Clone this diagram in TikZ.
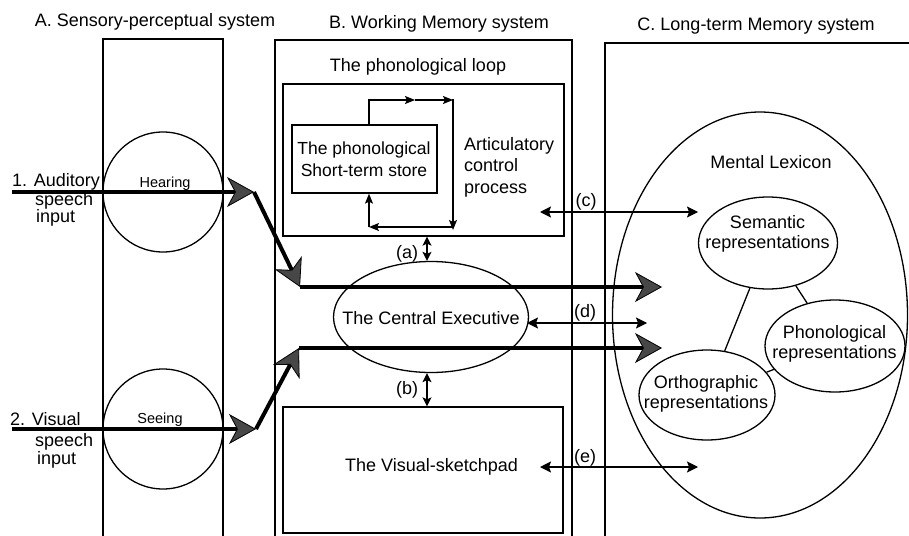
\documentclass[tikz,border=0pt]{standalone}
\usepackage{fontspec}
\setmainfont{Liberation Sans}
\usetikzlibrary{arrows.meta,shapes.geometric}
\tikzset{
  lbl/.style={inner sep=0pt, font=\fontsize{18}{20}\selectfont},
  sml/.style={inner sep=0pt, font=\fontsize{14.5}{17}\selectfont},
  frame/.style={line width=1.3pt},
  oval/.style={draw, ellipse, line width=1.3pt, inner sep=0pt},
  boxnode/.style={draw, line width=1.3pt, inner sep=0pt},
  bigarrow/.style={line width=4pt, -{Stealth[length=27pt,width=30pt,inset=8pt,line width=0.8pt,fill=black!72]}},
  twoway/.style={line width=1.3pt, {Stealth[length=11pt,width=11pt,inset=2pt]}-{Stealth[length=11pt,width=11pt,inset=2pt]}},
  shortway/.style={line width=1.3pt, {Stealth[length=9pt,width=9pt,inset=2pt]}-{Stealth[length=9pt,width=9pt,inset=2pt]}},
  looparrow/.style={line width=1.3pt, -{Stealth[length=10pt,width=8pt,inset=2pt]}},
}
\begin{document}
\begin{tikzpicture}[x=1pt,y=-1pt]
\useasboundingbox (0,0) rectangle (909,535);
\fill[white] (0,0) rectangle (909,535);

% titles
\node[lbl, anchor=base] (tA) at (155,27) {A. Sensory-perceptual system};
\node[lbl, anchor=base] (tB) at (439,29) {B. Working Memory system};
\node[lbl, anchor=base] (tC) at (756,31) {C. Long-term Memory system};

% columns
\draw[frame] (103,545) -- (103,39) -- (223,39) -- (223,545);
\draw[frame] (275,545) -- (275,40) -- (572,40) -- (572,545);
\draw[frame] (605,545) -- (605,43) -- (920,43);

% sensory circles
\node[draw, circle, line width=1.3pt, minimum size=120pt, inner sep=0pt] (hear) at (163,192) {};
\node[draw, circle, line width=1.3pt, minimum size=120pt, inner sep=0pt] (see) at (163,429) {};
\node[sml, anchor=base] (heart) at (165,187) {Hearing};
\node[sml, anchor=base] (seet) at (160,423) {Seeing};

% input labels
\node[lbl, anchor=base west] (aud1) at (12,186) {1. Auditory};
\node[lbl, anchor=base west] (aud2) at (35,205) {speech};
\node[lbl, anchor=base west] (aud3) at (36,222) {input};
\node[lbl, anchor=base west] (vis1) at (10,425) {2. Visual};
\node[lbl, anchor=base west] (vis2) at (35,446) {speech};
\node[lbl, anchor=base west] (vis3) at (37,464) {input};

% phonological loop
\node[lbl, anchor=base] (plt) at (418,71) {The phonological loop};
\node[boxnode, minimum width=281pt, minimum height=152pt] (lpbox) at (423.5,160) {};
\node[boxnode, minimum width=145pt, minimum height=68pt] (store) at (364.5,159) {};
\node[inner sep=0pt, align=center, anchor=north, font=\fontsize{17.5}{22}\selectfont] (storet) at (364,142) {The phonological\\Short-term store};
\node[inner sep=0pt, align=left, anchor=north west, font=\fontsize{18}{21.5}\selectfont] (art) at (464,137) {Articulatory\\control\\process};

\coordinate (l1) at (369,100);
\coordinate (l2) at (415,100);
\coordinate (l3) at (453,100);
\coordinate (l4) at (453,227);
\coordinate (l5) at (369,227);
\draw[looparrow] (store.north -| l1) -- (l1) -- (l2);
\draw[looparrow] (l2) -- (l3);
\draw[frame] (l3) -- ([yshift=0.65pt]l3);
\draw[looparrow] (l3) -- ([yshift=-3pt]l4);
\draw[looparrow] (l4) -- (l5);
\draw[looparrow] (l5) -- (store.south -| l5);

% central executive
\node[oval, minimum width=195pt, minimum height=111pt] (ce) at (431,317) {};
\node[lbl, anchor=base] (cet) at (431,324) {The Central Executive};

% visual sketchpad
\node[boxnode, minimum width=280pt, minimum height=126pt] (vs) at (423,470) {};
\node[lbl, anchor=base] (vst) at (431.5,471) {The Visual-sketchpad};

% (a) (b)
\coordinate (ab) at (427,0);
\draw[shortway] (lpbox.south -| ab) -- (ce.north -| ab);
\draw[shortway] (ce.south -| ab) -- (vs.north -| ab);
\node[lbl] (la) at (407,254) {(a)};
\node[lbl] (lb) at (407,390) {(b)};

% mental lexicon
\node[oval, minimum width=295pt, minimum height=406pt] (lex) at (760,315) {};
\node[lbl, anchor=base] (lext) at (771,168) {Mental Lexicon};
\node[oval, minimum width=139pt, minimum height=92pt] (sem) at (768,243) {};
\node[oval, minimum width=140pt, minimum height=92pt] (pho) at (835,346) {};
\node[oval, minimum width=136pt, minimum height=90pt] (ort) at (707,395) {};
\node[lbl, align=center, anchor=north] (semt) at (767.5,215) {Semantic\\representations};
\node[lbl, align=center, anchor=north] (phot) at (834.5,325) {Phonological\\representations};
\node[lbl, align=center, anchor=north] (ortt) at (706,375) {Orthographic\\representations};
\draw[frame] (sem) -- (ort);
\draw[frame] (sem) -- (pho);
\draw[frame] (pho) -- (ort);

% (c) (d) (e)
\coordinate (c1) at (540,212);
\coordinate (c2) at (698,212);
\draw[twoway] (c1) -- (c2);
\node[lbl] (lc) at (586,202) {(c)};
\coordinate (d1) at (527,323);
\coordinate (d2) at (647,323);
\draw[twoway] (d1) -- (d2);
\node[lbl] (ld) at (585,313) {(d)};
\coordinate (e1) at (540,467);
\coordinate (e2) at (698,467);
\draw[twoway] (e1) -- (e2);
\node[lbl] (le) at (585,458) {(e)};

% input pathways
\coordinate (in1) at (12,192);
\coordinate (k1) at (254,192);
\coordinate (j1) at (300,287);
\coordinate (o1) at (662,287);
\draw[bigarrow] (in1) -- (k1);
\draw[bigarrow] (k1) -- (j1);
\draw[bigarrow] (j1) -- (o1);

\coordinate (in2) at (12,429);
\coordinate (k2) at (256,429);
\coordinate (j2) at (299,348);
\coordinate (o2) at (662,348);
\draw[bigarrow] (in2) -- (k2);
\draw[bigarrow] (k2) -- (j2);
\draw[bigarrow] (j2) -- (o2);
\end{tikzpicture}
\end{document}
